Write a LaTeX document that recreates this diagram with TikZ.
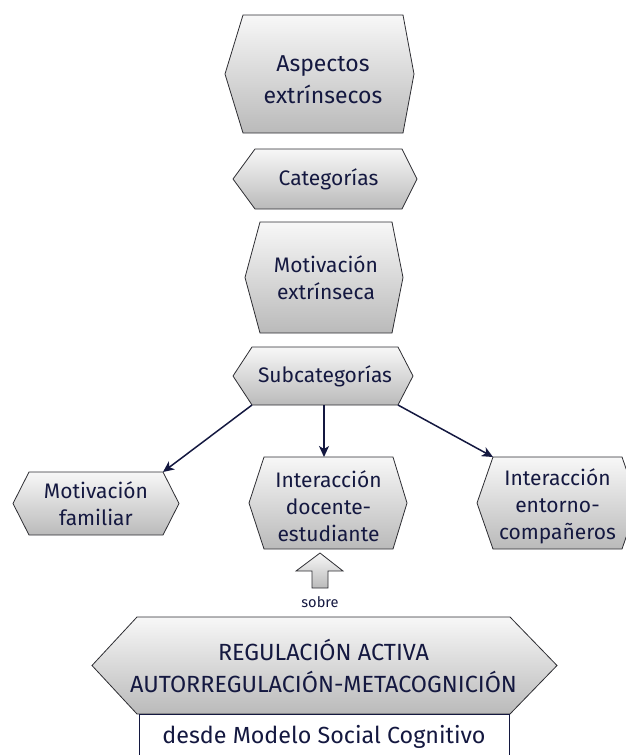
\documentclass[tikz,border=0pt]{standalone}
\usepackage{fontspec}
\setmainfont{Fira Sans}
\usetikzlibrary{arrows.meta}
\definecolor{ink}{RGB}{20,24,64}
\definecolor{edge}{RGB}{45,45,50}
\tikzset{
  hexfill/.style={draw=edge, line width=0.8pt, top color=gray!6, bottom color=gray!54},
  hextext/.style={text=ink, align=center, inner sep=0pt, font=\fontsize{21}{27}\selectfont},
  link/.style={draw=ink, line width=1.5pt, -{Stealth[length=11pt,width=10pt,inset=3pt]}},
}
% name, left point x, left corner x, right corner x, right point x, top y, bottom y
\newcommand{\hexshape}[7]{%
  \path[hexfill] (#2,{(#6+#7)/2}) -- (#3,#6) -- (#4,#6) -- (#5,{(#6+#7)/2}) -- (#4,#7) -- (#3,#7) -- cycle;
  \coordinate (#1-tl) at (#3,#6);
  \coordinate (#1-tr) at (#4,#6);
  \coordinate (#1-bl) at (#3,#7);
  \coordinate (#1-br) at (#4,#7);
  \coordinate (#1-c) at ({(#3+#4)/2},{(#6+#7)/2});
}
\begin{document}
\begin{tikzpicture}[x=1pt,y=-1pt]
\useasboundingbox (0,0) rectangle (625,755);

\hexshape{asp}{225}{243}{403}{414}{15}{133}
\node[hextext, font=\fontsize{23}{32}\selectfont] (aspt) at ([yshift=-6pt]asp-c) {Aspectos\\extrínsecos};

\hexshape{cat}{233}{255}{402}{417}{149}{209}
\node[hextext] (catt) at (cat-c) {Categorías};

\hexshape{mex}{245}{260}{392}{403}{222}{333}
\node[hextext] (mext) at (mex-c) {Motivación\\extrínseca};

\hexshape{sub}{233}{252}{398}{413}{347}{405}
\node[hextext] (subt) at (sub-c) {Subcategorías};

\hexshape{mf}{13}{29}{163}{179}{472}{535}
\node[hextext] (mft) at (mf-c) {Motivación\\familiar};

\hexshape{ids}{249}{264}{393}{407}{457}{549}
\node[hextext] (idst) at ([yshift=-3pt]ids-c) {Interacción\\docente-\\estudiante};

\hexshape{iec}{477}{493}{622}{638}{457}{549}
\node[hextext] (iect) at ([yshift=-3pt]iec-c) {Interacción\\entorno-\\compañeros};

\coordinate (sub-b) at (324,405);
\draw[link] (sub-bl) -- (mf-tr);
\draw[link] (sub-b) -- (sub-b |- ids-tl);
\draw[link] (sub-br) -- (iec-tl);

% block arrow
\path[hexfill] (320,553) -- (343,571) -- (328,571) -- (328,588) -- (312,588) -- (312,571) -- (296,571) -- cycle;
\node[text=ink, inner sep=0pt, font=\fontsize{14.6}{18}\selectfont] (sobre) at (320,602) {sobre};

\hexshape{reg}{92}{137}{510}{557}{617}{714}
\node[hextext, font=\fontsize{23.4}{32}\selectfont] (regt) at (reg-c) {REGULACIÓN ACTIVA\\AUTORREGULACIÓN-METACOGNICIÓN};

\draw[draw=ink, line width=0.8pt, fill=white] (139,714) rectangle (509,758);
\node[text=ink, inner sep=0pt, font=\fontsize{23.3}{26}\selectfont] (desde) at (324,737) {desde Modelo Social Cognitivo};
\end{tikzpicture}
\end{document}
